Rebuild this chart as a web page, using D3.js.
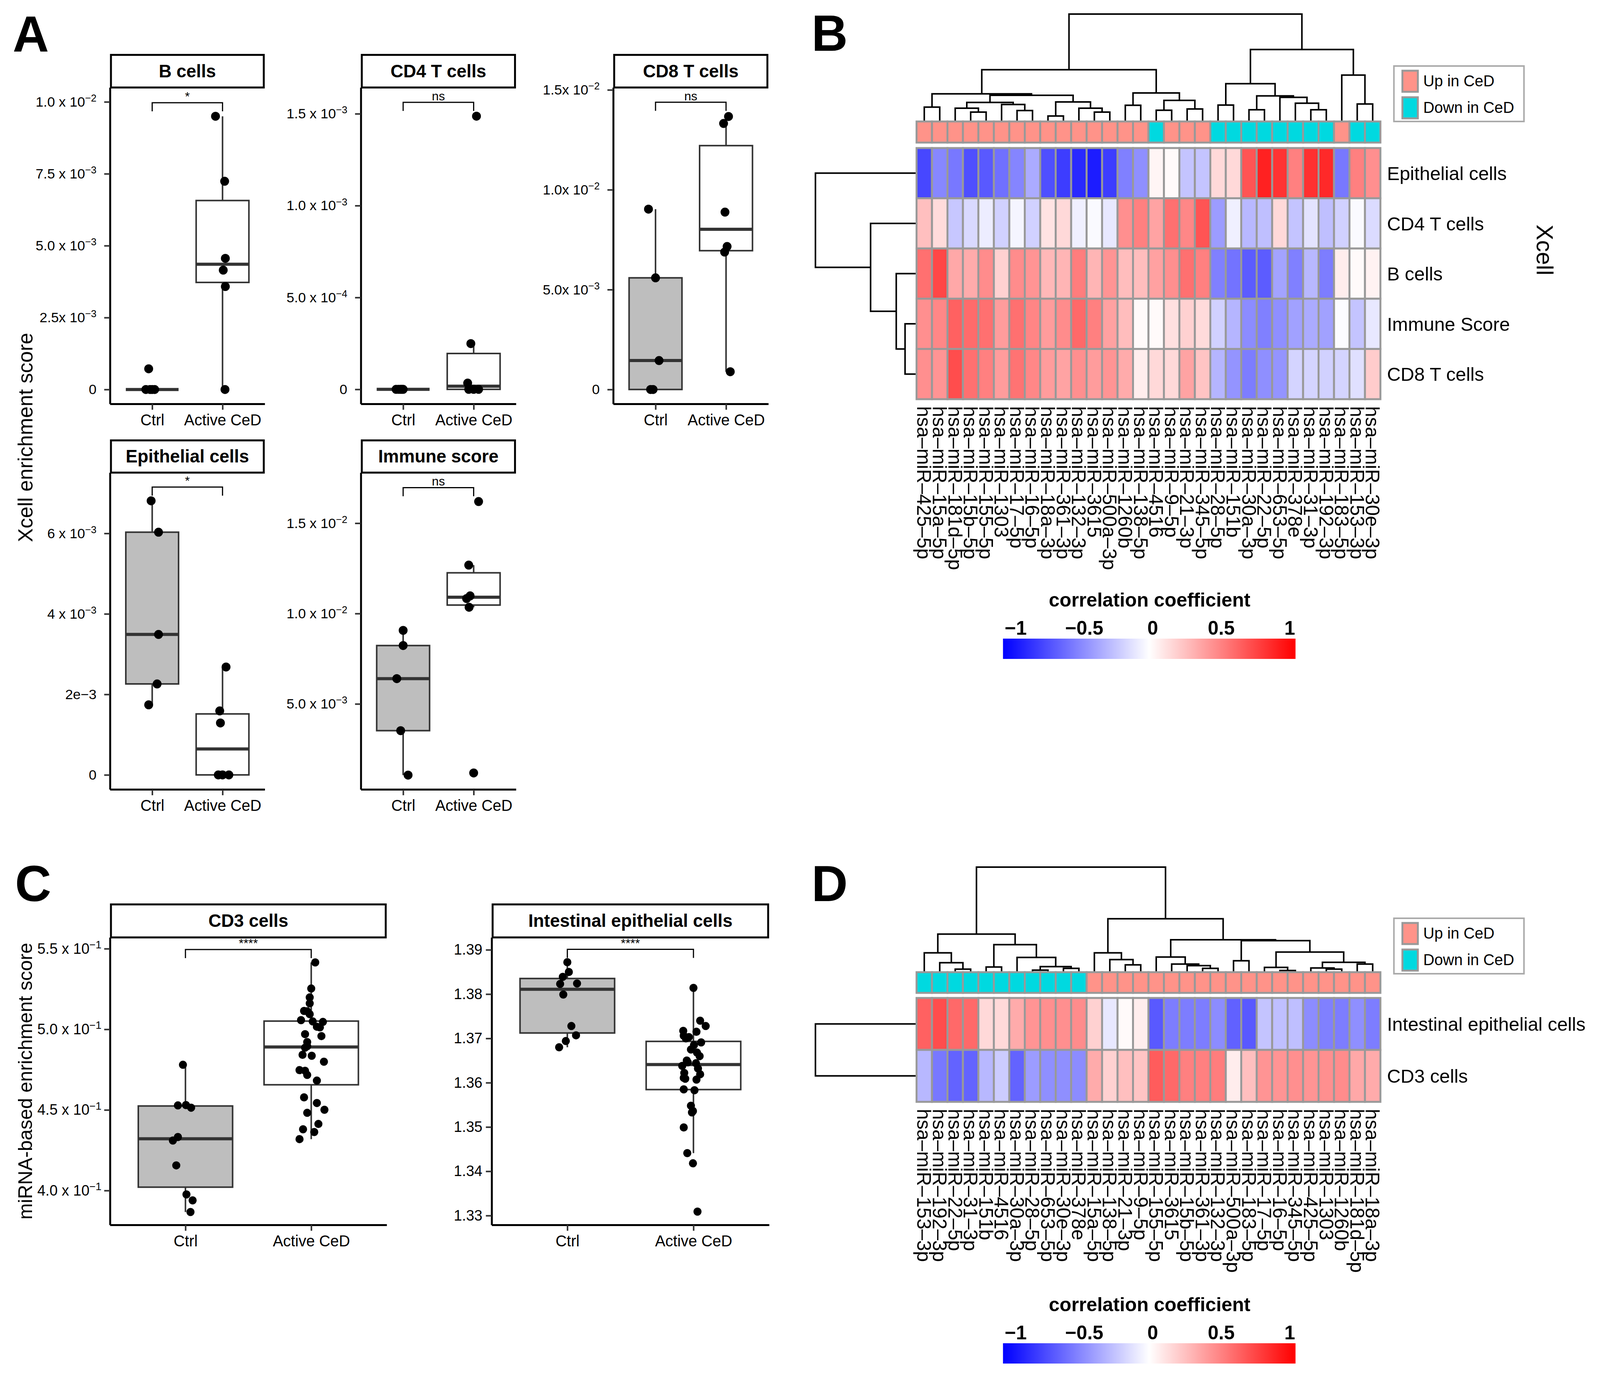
<!DOCTYPE html>
<html>
<head>
<meta charset="utf-8">
<script src="https://cdn.jsdelivr.net/npm/d3@7"></script>
<style>
  html, body { margin: 0; padding: 0; width: 100%; height: 100%; overflow: hidden; background: #fff; }
  svg { display: block; width: 100%; height: 100%; }
  text { font-family: "Liberation Sans", Arial, Helvetica, sans-serif; }
</style>
</head>
<body>
<svg id="fig" viewBox="0 0 4146 3528" preserveAspectRatio="none"></svg>
<script>
// ---------- data: boxplots (A, C) ----------
var groups = ['Ctrl', 'Active CeD'];

var bCellsCtrl = [0, 0, 0, 0, 0.00072];
var bCellsCed = [0.0095, 0.00724, 0.00456, 0.00415, 0.00358, 0];
var bCellsCtrlJit = [-0.09, 0, 0.035, -0.03, -0.05];
var bCellsCedJit = [-0.10, 0.03, 0.04, 0.01, 0.04, 0.035];
var bCellsTicks = [0, 0.0025, 0.005, 0.0075, 0.01];
var bCellsLabels = ['0', '2.5x 10^\u22123', '5.0 x 10^\u22123', '7.5 x 10^\u22123', '1.0 x 10^\u22122'];

var cd4Ctrl = [0, 0, 0, 0, 0];
var cd4Ced = [0.001487, 0.000249, 0.000034, 0, 0, 0];
var cd4CtrlJit = [-0.1, -0.07, -0.04, -0.02, 0];
var cd4CedJit = [0.04, -0.04, -0.085, -0.07, 0, 0.07];
var cd4Ticks = [0, 0.0005, 0.001, 0.0015];
var cd4Labels = ['0', '5.0 x 10^\u22124', '1.0 x 10^\u22123', '1.5 x 10^\u22123'];

var cd8Ctrl = [0.00903, 0.00559, 0.00145, 0, 0];
var cd8Ced = [0.01367, 0.01332, 0.00888, 0.00716, 0.00688, 0.00089];
var cd8CtrlJit = [-0.1, 0, 0.05, -0.07, -0.035];
var cd8CedJit = [0.035, -0.035, -0.015, 0.015, -0.02, 0.06];
var cd8Ticks = [0, 0.005, 0.01, 0.015];
var cd8Labels = ['0', '5.0x 10^\u22123', '1.0x 10^\u22122', '1.5x 10^\u22122'];

var epiCtrl = [0.00681, 0.00603, 0.00349, 0.00226, 0.00174];
var epiCed = [0.00268, 0.00159, 0.00129, 0, 0, 0];
var epiCtrlJit = [-0.015, 0.09, 0.09, 0.07, -0.05];
var epiCedJit = [0.05, -0.04, -0.03, -0.06, 0.09, 0];
var epiTicks = [0, 0.002, 0.004, 0.006];
var epiLabels = ['0', '2e\u22123', '4 x 10^\u22123', '6 x 10^\u22123'];

var immCtrl = [0.00907, 0.00823, 0.0064, 0.00352, 0.00106];
var immCed = [0.0162, 0.01268, 0.01098, 0.01083, 0.01035, 0.00118];
var immCtrlJit = [0, 0, -0.09, -0.035, 0.07];
var immCedJit = [0.07, -0.07, -0.05, -0.1, -0.065, 0];
var immTicks = [0.005, 0.01, 0.015];
var immLabels = ['5.0 x 10^\u22123', '1.0 x 10^\u22122', '1.5 x 10^\u22122'];

var cd3Ctrl = [0.478, 0.4528, 0.453, 0.4514, 0.4332, 0.431, 0.4156, 0.3976, 0.3939, 0.3867];
var cd3CtrlJit = [-0.02, -0.06, 0.004, 0.045, -0.06, -0.10, -0.073, 0.008, 0.057, 0.04];
var cd3Ced = [0.5415, 0.5253, 0.5198, 0.5161, 0.5114, 0.5112, 0.5094, 0.5057, 0.5049, 0.5046,
  0.5016, 0.5012, 0.4970, 0.4958, 0.4921, 0.4895, 0.4886, 0.4842, 0.4836, 0.4799,
  0.4747, 0.4743, 0.4717, 0.4682, 0.4578, 0.4543, 0.4501, 0.4482, 0.4413, 0.4380,
  0.4363, 0.4319];
var cd3CedJit = [0.032, 0, -0.012, -0.012, -0.057, -0.032, -0.012, -0.081, 0.012, 0.093,
  0.045, 0.069, -0.049, 0.081, -0.032, -0.032, -0.049, -0.069, 0.004, 0.101,
  -0.093, -0.049, -0.032, 0.045, -0.057, 0.045, 0.105, -0.032, 0.057, -0.065,
  0.024, -0.093];
var cd3Ticks = [0.40, 0.45, 0.50, 0.55];
var cd3Labels = ['4.0 x 10^\u22121', '4.5 x 10^\u22121', '5.0 x 10^\u22121', '5.5 x 10^\u22121'];

var iecCtrl = [1.3872, 1.3850, 1.3839, 1.3824, 1.3823, 1.3799, 1.3728, 1.3707, 1.3694, 1.3680];
var iecCtrlJit = [0, 0.012, -0.036, 0.077, -0.057, -0.032, 0.032, 0.069, -0.012, -0.065];
var iecCed = [1.3814, 1.3740, 1.3728, 1.3717, 1.3715, 1.3706, 1.3703, 1.3691, 1.3668, 1.3646,
  1.3644, 1.3638, 1.3632, 1.3622, 1.3619, 1.3611, 1.3609, 1.3607, 1.3585, 1.3583,
  1.3548, 1.3536, 1.3533, 1.3499, 1.3441, 1.3418, 1.3309, 1.3700, 1.3685, 1.3675,
  1.3660, 1.3650];
var iecCedJit = [0, 0.053, 0.097, -0.081, 0.024, -0.077, -0.036, 0.061, 0.028, -0.045,
  0.02, -0.089, 0.036, -0.073, 0.053, -0.077, -0.065, 0.024, -0.077, 0.008,
  -0.02, -0.004, -0.012, -0.077, -0.049, -0.004, 0.032, -0.06, 0.004, -0.02,
  0.049, -0.053];
var iecTicks = [1.33, 1.34, 1.35, 1.36, 1.37, 1.38, 1.39];
var iecLabels = ['1.33', '1.34', '1.35', '1.36', '1.37', '1.38', '1.39'];

// ---------- data: heatmaps (B, D) ----------
var xcellRows = ['Epithelial cells', 'CD4 T cells', 'B cells', 'Immune Score', 'CD8 T cells'];
var xcellCols = ['hsa-miR-425-5p', 'hsa-miR-15a-5p', 'hsa-miR-181d-5p', 'hsa-miR-15b-5p', 'hsa-miR-155-5p',
  'hsa-miR-1303', 'hsa-miR-17-5p', 'hsa-miR-16-5p', 'hsa-miR-18a-3p', 'hsa-miR-361-3p',
  'hsa-miR-132-3p', 'hsa-miR-3615', 'hsa-miR-500a-3p', 'hsa-miR-1260b', 'hsa-miR-138-5p',
  'hsa-miR-4516', 'hsa-miR-9-5p', 'hsa-miR-21-3p', 'hsa-miR-345-5p', 'hsa-miR-28-5p',
  'hsa-miR-151b', 'hsa-miR-30a-3p', 'hsa-miR-22-5p', 'hsa-miR-653-5p', 'hsa-miR-378e',
  'hsa-miR-31-3p', 'hsa-miR-192-3p', 'hsa-miR-183-5p', 'hsa-miR-153-3p', 'hsa-miR-30e-3p'];
var xcellDir = ['Up', 'Up', 'Up', 'Up', 'Up', 'Up', 'Up', 'Up', 'Up', 'Up', 'Up', 'Up', 'Up', 'Up', 'Up',
  'Down', 'Up', 'Up', 'Up', 'Down', 'Down', 'Down', 'Down', 'Down', 'Down', 'Down', 'Down', 'Up', 'Down', 'Down'];
var xcellEpi = [-0.72, -0.47, -0.53, -0.69, -0.65, -0.56, -0.48, -0.33, -0.69, -0.76, -0.84, -0.89, -0.76, -0.50, -0.44,
  0.04, 0.02, -0.23, -0.23, 0.15, 0.15, 0.67, 0.87, 0.80, 0.50, 0.81, 0.84, -0.53, 0.50, 0.44];
var xcellCd4 = [0.25, 0.14, -0.22, -0.15, -0.07, -0.18, -0.04, -0.18, 0.11, 0.15, -0.06, -0.02, -0.09, 0.44, 0.50,
  0.36, 0.56, 0.47, 0.67, -0.39, -0.06, -0.28, -0.25, 0.15, -0.23, -0.11, -0.25, -0.18, -0.02, -0.14];
var xcellB = [0.56, 0.72, 0.34, 0.33, 0.45, 0.18, 0.45, 0.42, 0.28, 0.29, 0.51, 0.29, 0.42, 0.26, 0.26,
  0.37, 0.44, 0.56, 0.50, -0.50, -0.55, -0.64, -0.64, -0.36, -0.50, -0.28, -0.51, 0.07, 0.02, 0.05];
var xcellImm = [0.44, 0.47, 0.62, 0.58, 0.56, 0.39, 0.56, 0.48, 0.39, 0.45, 0.59, 0.50, 0.37, 0.26, 0.02,
  0.02, 0.12, 0.18, 0.14, -0.18, -0.29, -0.45, -0.50, -0.44, -0.37, -0.33, -0.37, -0.01, -0.23, -0.09];
var xcellCd8 = [0.44, 0.42, 0.70, 0.56, 0.50, 0.39, 0.55, 0.47, 0.39, 0.36, 0.44, 0.39, 0.42, 0.33, 0.07,
  0.15, 0.15, 0.36, 0.23, -0.29, -0.42, -0.51, -0.44, -0.42, -0.17, -0.17, -0.18, -0.17, -0.12, 0.20];
// hclust-style merges: negative = leaf, positive = earlier merge
var xcellColMerge = [[-1, -2], [-4, -5], [-3, 2], [-7, -8], [-6, 4], [3, 5], [-9, -10], [-12, -13], [-11, 8], [7, 9],
  [6, 10], [1, 11], [-14, -15], [-16, -17], [-18, -19], [14, 15], [13, 16], [12, 17], [-20, -21], [-22, -23],
  [-26, -27], [-25, 21], [-24, 22], [20, 23], [19, 24], [-29, -30], [-28, 26], [25, 27], [18, 28]];
var xcellColHeight = [104, 66, 96, 78, 124, 140, 36, 66, 96, 144, 195, 206, 118, 80, 90, 156, 213, 391, 120, 84,
  84, 134, 179, 190, 284, 128, 350, 546, 818];
var xcellRowMerge = [[-4, -5], [-3, 1], [-2, 2], [-1, 3]];
var xcellRowHeight = [28, 51, 118, 262];

var mirRows = ['Intestinal epithelial cells', 'CD3 cells'];
var mirCols = ['hsa-miR-153-3p', 'hsa-miR-192-3p', 'hsa-miR-22-5p', 'hsa-miR-31-3p', 'hsa-miR-151b',
  'hsa-miR-4516', 'hsa-miR-30a-3p', 'hsa-miR-28-5p', 'hsa-miR-653-5p', 'hsa-miR-30e-3p',
  'hsa-miR-378e', 'hsa-miR-15a-5p', 'hsa-miR-138-5p', 'hsa-miR-21-3p', 'hsa-miR-9-5p',
  'hsa-miR-155-5p', 'hsa-miR-3615', 'hsa-miR-15b-5p', 'hsa-miR-361-3p', 'hsa-miR-132-3p',
  'hsa-miR-500a-3p', 'hsa-miR-183-5p', 'hsa-miR-17-5p', 'hsa-miR-16-5p', 'hsa-miR-345-5p',
  'hsa-miR-425-5p', 'hsa-miR-1303', 'hsa-miR-1260b', 'hsa-miR-181d-5p', 'hsa-miR-18a-3p'];
var mirDir = ['Down', 'Down', 'Down', 'Down', 'Down', 'Down', 'Down', 'Down', 'Down', 'Down', 'Down',
  'Up', 'Up', 'Up', 'Up', 'Up', 'Up', 'Up', 'Up', 'Up', 'Up', 'Up', 'Up', 'Up', 'Up', 'Up', 'Up', 'Up', 'Up', 'Up'];
var mirIec = [0.62, 0.70, 0.59, 0.59, 0.15, 0.15, 0.33, 0.42, 0.44, 0.44, 0.45, 0.18, -0.09, 0.02, 0.07,
  -0.65, -0.51, -0.51, -0.51, -0.45, -0.62, -0.65, -0.23, -0.25, -0.25, -0.45, -0.50, -0.51, -0.44, -0.51];
var mirCd3 = [-0.28, -0.53, -0.61, -0.61, -0.28, -0.20, -0.61, -0.39, -0.44, -0.44, -0.45, 0.33, 0.18, 0.25, 0.23,
  0.64, 0.59, 0.50, 0.50, 0.51, 0.07, 0.25, 0.42, 0.42, 0.44, 0.42, 0.44, 0.45, 0.34, 0.33];
var mirColMerge = [[-3, -4], [-2, 1], [-1, 2], [-5, -6], [-8, -9], [-10, -11], [5, 6], [-7, 7], [4, 8], [3, 9],
  [-14, -15], [-13, 11], [-12, 12], [-19, -20], [-18, 14], [-17, 15], [-16, 16], [-21, -22], [-24, -25], [-23, 19],
  [-27, -28], [-26, 21], [-29, -30], [22, 23], [20, 24], [18, 25], [17, 26], [13, 27], [10, 28]];
var mirColHeight = [17, 67, 142, 34, 10, 23, 37, 107, 205, 286, 50, 91, 142, 23, 44, 56, 110, 82, 7, 31,
  17, 26, 56, 70, 148, 236, 243, 404, 800];
var mirRowMerge = [[-1, -2]];
var mirRowHeight = [262];

var legendTicks = [-1, -0.5, 0, 0.5, 1];
var legendTickLabels = ['\u22121', '\u22120.5', '0', '0.5', '1'];

// ---------- drawing ----------
var svg = d3.select('#fig');
svg.append('rect').attr('width', 4146).attr('height', 3528).attr('fill', '#fff');

var _tickLabel = function (sel, s) {
  var parts = s.split('^');
  sel.text(null);
  sel.append('tspan').text(parts[0]);
  if (parts[1]) {
    sel.append('tspan').attr('dy', '-0.5em').attr('font-size', '0.72em').text(parts[1]);
  }
};

var _boxStats = function (vals) {
  var s = vals.slice().sort(d3.ascending);
  var q1 = d3.quantile(s, 0.25), med = d3.quantile(s, 0.5), q3 = d3.quantile(s, 0.75);
  var iqr = q3 - q1;
  var lo = d3.min(s.filter(function (v) { return v >= q1 - 1.5 * iqr; }));
  var hi = d3.max(s.filter(function (v) { return v <= q3 + 1.5 * iqr; }));
  return { q1: q1, med: med, q3: q3, lo: lo, hi: hi };
};

var _boxPanel = function (p, g) {
  var root = svg.append('g');
  var x = d3.scalePoint().domain(groups).range([g.x0, g.x1]).padding(0.6);
  var y = d3.scaleLinear().domain(p.lim).range([g.y1, g.y0]);
  var step = x.step();
  var bw = step * 0.75;

  // strip
  root.append('rect')
  .attr('x', g.x0 + 2.5).attr('y', g.sy + 2.5)
  .attr('width', g.x1 - g.x0 - 5).attr('height', g.y0 - g.sy - 2.5)
  .attr('fill', '#fff').attr('stroke', '#000').attr('stroke-width', 5);
  root.append('text')
  .attr('x', (g.x0 + g.x1) / 2).attr('y', (g.sy + g.y0) / 2)
  .attr('dy', '0.36em').attr('text-anchor', 'middle')
  .attr('font-size', 46).attr('font-weight', 'bold')
  .text(p.title);

  // boxes
  [p.ctrl, p.ced].forEach(function (vals, k) {
    var st = _boxStats(vals);
    var cx = x(groups[k]);
    var bg = root.append('g').attr('stroke', '#333333');
    bg.append('line').attr('x1', cx).attr('x2', cx).attr('y1', y(st.hi)).attr('y2', y(st.q3)).attr('stroke-width', 4);
    bg.append('line').attr('x1', cx).attr('x2', cx).attr('y1', y(st.lo)).attr('y2', y(st.q1)).attr('stroke-width', 4);
    bg.append('rect')
    .attr('x', cx - bw / 2).attr('y', y(st.q3))
    .attr('width', bw).attr('height', Math.max(0, y(st.q1) - y(st.q3)))
    .attr('fill', k === 0 ? '#bebebe' : '#fff').attr('stroke-width', 4);
    bg.append('line').attr('x1', cx - bw / 2).attr('x2', cx + bw / 2)
    .attr('y1', y(st.med)).attr('y2', y(st.med)).attr('stroke-width', 8);
  });

  // points
  [[p.ctrl, p.jc], [p.ced, p.jd]].forEach(function (pair, k) {
    root.append('g').selectAll('circle').data(pair[0]).enter().append('circle')
    .attr('cx', function (d, i) { return x(groups[k]) + pair[1][i] * step; })
    .attr('cy', function (d) { return y(d); })
    .attr('r', g.r).attr('fill', '#000');
  });

  // significance bracket
  var by = y(p.br);
  root.append('path')
  .attr('d', 'M' + x(groups[0]) + ',' + (by + 22) + 'V' + by + 'H' + x(groups[1]) + 'V' + (by + 22))
  .attr('fill', 'none').attr('stroke', '#000').attr('stroke-width', 3);
  root.append('text')
  .attr('x', (x(groups[0]) + x(groups[1])) / 2).attr('y', by - 5)
  .attr('text-anchor', 'middle').attr('font-size', 32)
  .text(p.sig);

  // axes
  var ya = root.append('g').attr('transform', 'translate(' + g.x0 + ',0)')
  .call(d3.axisLeft(y).tickValues(p.ticks).tickSize(15).tickSizeOuter(0).tickPadding(g.pad));
  ya.attr('font-size', g.fs).attr('font-family', null);
  ya.select('.domain').attr('stroke', '#000').attr('stroke-width', 5);
  ya.selectAll('.tick line').attr('stroke', '#333').attr('stroke-width', 4);
  ya.selectAll('.tick text').attr('fill', '#000').each(function (d, i) { _tickLabel(d3.select(this), p.labels[i]); });

  var xa = root.append('g').attr('transform', 'translate(0,' + g.y1 + ')')
  .call(d3.axisBottom(x).tickSize(15).tickSizeOuter(0).tickPadding(12));
  xa.attr('font-size', 40).attr('font-family', null);
  xa.select('.domain').attr('stroke', '#000').attr('stroke-width', 5);
  xa.selectAll('.tick line').attr('stroke', '#333').attr('stroke-width', 4);
  xa.selectAll('.tick text').attr('fill', '#000');
};

var panelA = [
  { title: 'B cells', ctrl: bCellsCtrl, ced: bCellsCed, jc: bCellsCtrlJit, jd: bCellsCedJit, lim: [-0.0005, 0.0105], ticks: bCellsTicks, labels: bCellsLabels, br: 0.00997, sig: '*' },
  { title: 'CD4 T cells', ctrl: cd4Ctrl, ced: cd4Ced, jc: cd4CtrlJit, jd: cd4CedJit, lim: [-0.000079, 0.001643], ticks: cd4Ticks, labels: cd4Labels, br: 0.001562, sig: 'ns' },
  { title: 'CD8 T cells', ctrl: cd8Ctrl, ced: cd8Ced, jc: cd8CtrlJit, jd: cd8CedJit, lim: [-0.00072, 0.01512], ticks: cd8Ticks, labels: cd8Labels, br: 0.01438, sig: 'ns' },
  { title: 'Epithelial cells', ctrl: epiCtrl, ced: epiCed, jc: epiCtrlJit, jd: epiCedJit, lim: [-0.00036, 0.00751], ticks: epiTicks, labels: epiLabels, br: 0.00715, sig: '*' },
  { title: 'Immune score', ctrl: immCtrl, ced: immCed, jc: immCtrlJit, jd: immCedJit, lim: [0.00027, 0.0178], ticks: immTicks, labels: immLabels, br: 0.01697, sig: 'ns' }
];
var layoutA = [
  { x0: 285, x1: 686, sy: 138, y0: 224, y1: 1034, r: 11.5, fs: 36, pad: 20 },
  { x0: 935, x1: 1337, sy: 138, y0: 224, y1: 1034, r: 11.5, fs: 36, pad: 20 },
  { x0: 1589, x1: 1991, sy: 138, y0: 224, y1: 1034, r: 11.5, fs: 36, pad: 20 },
  { x0: 285, x1: 686, sy: 1125, y0: 1210, y1: 2021, r: 11.5, fs: 36, pad: 20 },
  { x0: 935, x1: 1337, sy: 1125, y0: 1210, y1: 2021, r: 11.5, fs: 36, pad: 20 }
];
panelA.forEach(function (p, i) { _boxPanel(p, layoutA[i]); });

var panelC = [
  { title: 'CD3 cells', ctrl: cd3Ctrl, ced: cd3Ced, jc: cd3CtrlJit, jd: cd3CedJit, lim: [0.3787, 0.557], ticks: cd3Ticks, labels: cd3Labels, br: 0.5495, sig: '****' },
  { title: 'Intestinal epithelial cells', ctrl: iecCtrl, ced: iecCed, jc: iecCtrlJit, jd: iecCedJit, lim: [1.3279, 1.3928], ticks: iecTicks, labels: iecLabels, br: 1.3901, sig: '****' }
];
var layoutC = [
  { x0: 285, x1: 1002, sy: 2313, y0: 2400, y1: 3136, r: 10.5, fs: 38, pad: 7 },
  { x0: 1274, x1: 1993, sy: 2313, y0: 2400, y1: 3136, r: 10.5, fs: 38, pad: 9 }
];
panelC.forEach(function (p, i) { _boxPanel(p, layoutC[i]); });

// y axis titles
svg.append('text').attr('transform', 'translate(84,1120) rotate(-90)')
.attr('text-anchor', 'middle').attr('font-size', 53).text('Xcell enrichment score');
svg.append('text').attr('transform', 'translate(83,2768) rotate(-90)')
.attr('text-anchor', 'middle').attr('font-size', 50).text('miRNA-based enrichment score');

// ---------- heatmaps ----------
var heatColor = d3.scaleLinear().domain([-1, 0, 1]).range(['#0000ff', '#ffffff', '#ff0000']);
var dirColor = { Up: '#ff9389', Down: '#00d9e0' };
var dirLabel = { Up: 'Up in CeD', Down: 'Down in CeD' };

var _dendro = function (merge, heights, leafPos) {
  var nodes = [];
  var get = function (id) { return id < 0 ? { pos: leafPos(-id - 1), h: 0 } : nodes[id - 1]; };
  return merge.map(function (m, i) {
    var a = get(m[0]), b = get(m[1]);
    var n = { pos: (a.pos + b.pos) / 2, h: heights[i] };
    nodes.push(n);
    return { a: a, b: b, n: n };
  });
};

var _heatmap = function (h) {
  var root = svg.append('g');
  var x = d3.scaleBand().domain(d3.range(h.cols.length)).range([h.x0, h.x1]);
  var y = d3.scaleBand().domain(d3.range(h.rows.length)).range([h.y0, h.y1]);
  var cx = function (i) { return x(i) + x.bandwidth() / 2; };
  var cy = function (i) { return y(i) + y.bandwidth() / 2; };

  // column dendrogram
  var hc = d3.scaleLinear().domain([0, d3.max(h.colHeight)]).range([h.leafY, h.rootY]);
  root.append('g').selectAll('path').data(_dendro(h.colMerge, h.colHeight, cx)).enter().append('path')
  .attr('d', function (s) {
    return 'M' + s.a.pos + ',' + hc(s.a.h) + 'V' + hc(s.n.h) + 'H' + s.b.pos + 'V' + hc(s.b.h);
  })
  .attr('fill', 'none').attr('stroke', '#000').attr('stroke-width', 4);

  // row dendrogram
  var hr = d3.scaleLinear().domain([0, 262]).range([h.x0 - 2, h.rowRootX]);
  root.append('g').selectAll('path').data(_dendro(h.rowMerge, h.rowHeight, cy)).enter().append('path')
  .attr('d', function (s) {
    return 'M' + hr(s.a.h) + ',' + s.a.pos + 'H' + hr(s.n.h) + 'V' + s.b.pos + 'H' + hr(s.b.h);
  })
  .attr('fill', 'none').attr('stroke', '#000').attr('stroke-width', 4);

  // annotation bar
  root.append('g').selectAll('rect').data(h.dir).enter().append('rect')
  .attr('x', function (d, i) { return x(i); }).attr('y', h.ay0)
  .attr('width', x.bandwidth()).attr('height', h.ay1 - h.ay0)
  .attr('fill', function (d) { return dirColor[d]; })
  .attr('stroke', '#999').attr('stroke-width', 5);

  // cells
  h.values.forEach(function (row, r) {
    root.append('g').selectAll('rect').data(row).enter().append('rect')
    .attr('x', function (d, i) { return x(i); }).attr('y', y(r))
    .attr('width', x.bandwidth()).attr('height', y.bandwidth())
    .attr('fill', function (d) { return heatColor(d); })
    .attr('stroke', '#999').attr('stroke-width', 5);
  });

  // row labels
  root.append('g').selectAll('text').data(h.rows).enter().append('text')
  .attr('x', h.x1 + 17).attr('y', function (d, i) { return cy(i); })
  .attr('dy', '0.36em').attr('font-size', 49)
  .text(function (d) { return d; });

  // column labels
  root.append('g').selectAll('text').data(h.cols).enter().append('text')
  .attr('transform', function (d, i) { return 'translate(' + cx(i) + ',' + h.labelY + ') rotate(90)'; })
  .attr('dy', '0.36em').attr('font-size', 50)
  .text(function (d) { return d.replace(/-/g, '\u2013'); });

  // annotation legend
  var lg = root.append('g');
  lg.append('rect').attr('x', 3612).attr('y', h.legY).attr('width', 337).attr('height', 142)
  .attr('fill', '#fff').attr('stroke', '#aaa').attr('stroke-width', 4);
  ['Up', 'Down'].forEach(function (d, k) {
    var sy = h.legY + 12 + k * 68;
    lg.append('rect').attr('x', 3634).attr('y', sy).attr('width', 40).attr('height', 54)
    .attr('fill', dirColor[d]).attr('stroke', '#999').attr('stroke-width', 5);
    lg.append('text').attr('x', 3688).attr('y', sy + 27).attr('dy', '0.33em')
    .attr('font-size', 40).text(dirLabel[d]);
  });

  // colour key
  var gid = 'grad' + h.id;
  var grad = svg.append('defs').append('linearGradient').attr('id', gid);
  d3.range(0, 1.0001, 0.05).forEach(function (t) {
    grad.append('stop').attr('offset', t).attr('stop-color', heatColor(t * 2 - 1));
  });
  var kx = d3.scaleLinear().domain([-1, 1]).range([2632, 3342]);
  root.append('rect').attr('x', 2599).attr('y', h.keyY).attr('width', 758).attr('height', 52)
  .attr('fill', 'url(#' + gid + ')');
  root.append('text').attr('x', 2979).attr('y', h.keyY - 72 - 10)
  .attr('text-anchor', 'middle').attr('font-size', 50).attr('font-weight', 'bold')
  .text('correlation coefficient');
  root.append('g').selectAll('text').data(legendTicks).enter().append('text')
  .attr('x', function (d) { return kx(d); }).attr('y', h.keyY - 10)
  .attr('text-anchor', 'middle').attr('font-size', 50).attr('font-weight', 'bold')
  .text(function (d, i) { return legendTickLabels[i]; });
};

_heatmap({
  id: 'B', rows: xcellRows, cols: xcellCols, dir: xcellDir,
  values: [xcellEpi, xcellCd4, xcellB, xcellImm, xcellCd8],
  colMerge: xcellColMerge, colHeight: xcellColHeight, rowMerge: xcellRowMerge, rowHeight: xcellRowHeight,
  x0: 2375, x1: 3577, y0: 379, y1: 1022, ay0: 311, ay1: 365, leafY: 309, rootY: 36, rowRootX: 2113,
  labelY: 1040, legY: 169, keyY: 1635
});
_heatmap({
  id: 'D', rows: mirRows, cols: mirCols, dir: mirDir,
  values: [mirIec, mirCd3],
  colMerge: mirColMerge, colHeight: mirColHeight, rowMerge: mirRowMerge, rowHeight: mirRowHeight,
  x0: 2375, x1: 3577, y0: 2555, y1: 2821, ay0: 2489, ay1: 2542, leafY: 2487, rootY: 2220, rowRootX: 2113,
  labelY: 2839, legY: 2351, keyY: 3439
});

svg.append('text').attr('transform', 'translate(3982,640) rotate(90)')
.attr('text-anchor', 'middle').attr('font-size', 60).text('Xcell');

// panel letters
[['A', 33, 132], ['B', 2103, 130], ['C', 39, 2307], ['D', 2103, 2307]].forEach(function (l) {
  svg.append('text').attr('x', l[1]).attr('y', l[2])
  .attr('font-size', 130).attr('font-weight', 'bold').text(l[0]);
});
</script>
</body>
</html>
